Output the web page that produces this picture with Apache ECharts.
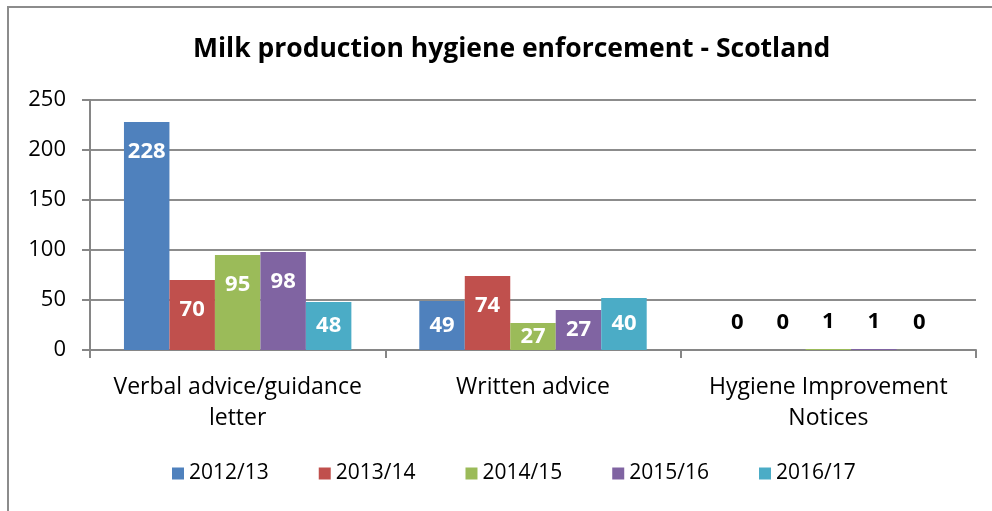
<!DOCTYPE html>
<html>
<head>
<meta charset="utf-8">
<script src="https://cdn.jsdelivr.net/npm/echarts@6/dist/echarts.min.js"></script>
<style>
    html, body { margin: 0; padding: 0; background: #fff; }
    #chart { width: 992px; height: 511px; }
</style>
</head>
<body>
<div id="chart"></div>
<script>
// categories and series
const categories = ['Verbal advice/guidance\nletter', 'Written advice', 'Hygiene Improvement\nNotices']
const years = ['2012/13', '2013/14', '2014/15', '2015/16', '2016/17']
const colors = ['#4f81bd', '#c0504d', '#9bbb59', '#8064a2', '#4bacc6']
// bar heights as drawn
const v2012 = [228, 49, 0]
const v2013 = [70, 74, 0]
const v2014 = [95, 27, 1]
const v2015 = [98, 40, 1]
const v2016 = [48, 52, 0]
// data label text as printed (differs from bar height in the original)
const l2012 = [228, 49, 0]
const l2013 = [70, 74, 0]
const l2014 = [95, 27, 1]
const l2015 = [98, 27, 1]
const l2016 = [48, 40, 0]
const yTicks = [0, 50, 100, 150, 200, 250]

const values = [v2012, v2013, v2014, v2015, v2016]
const labels = [l2012, l2013, l2014, l2015, l2016]
const font = '"Open Sans", "Noto Sans", sans-serif'

let series = years.map((y, i) => {
    return {
        name: y,
        type: 'bar',
        barGap: 0,
        barCategoryGap: '23%',
        itemStyle: { color: colors[i] },
        data: values[i].map((v, j) => {
            let lab
            if (v < 10) {
                lab = { show: true, position: 'top', distance: 16, color: '#000' }
            } else if (v < 60) {
                lab = { show: true, position: 'inside', color: '#fff' }
            } else {
                lab = { show: true, position: 'insideTop', distance: 19, color: '#fff' }
            }
            lab.formatter = String(labels[i][j])
            lab.fontSize = 22
            lab.fontWeight = 'bold'
            lab.fontFamily = font
            return { value: v, label: lab }
        })
    }
})

const myChart = echarts.init(document.getElementById('chart'))
myChart.setOption({
    backgroundColor: '#fff',
    animation: false,
    title: {
        text: 'Milk production hygiene enforcement - Scotland',
        left: 188,
        top: 31,
        textStyle: { fontFamily: font, fontSize: 26.5, fontWeight: 'bold', color: '#000' }
    },
    graphic: [{
        type: 'rect',
        shape: { x: 8, y: 7, width: 1000, height: 520 },
        style: { fill: 'none', stroke: '#8c8c8c', lineWidth: 2 },
        silent: true
    }],
    legend: {
        data: years,
        bottom: 22,
        left: 167,
        itemWidth: 12,
        itemHeight: 12,
        itemGap: 50,
        icon: 'rect',
        textStyle: { fontFamily: font, fontSize: 21, color: '#000' }
    },
    grid: { left: 90, right: 16, top: 100, bottom: 161 },
    xAxis: {
        type: 'category',
        data: categories,
        axisLine: { lineStyle: { color: '#868686', width: 2 } },
        axisTick: { show: true, length: 8, lineStyle: { color: '#868686', width: 2 } },
        axisLabel: { fontFamily: font, fontSize: 23, color: '#000', margin: 22, lineHeight: 31, interval: 0 }
    },
    yAxis: {
        type: 'value',
        min: yTicks[0],
        max: yTicks[yTicks.length - 1],
        interval: 50,
        axisLine: { show: true, lineStyle: { color: '#868686', width: 2 } },
        axisTick: { show: true, length: 8, lineStyle: { color: '#868686', width: 2 } },
        splitLine: { lineStyle: { color: '#8c8c8c', width: 2 } },
        axisLabel: { fontFamily: font, fontSize: 22, color: '#000', margin: 24 }
    },
    series: series
})
</script>
</body>
</html>
